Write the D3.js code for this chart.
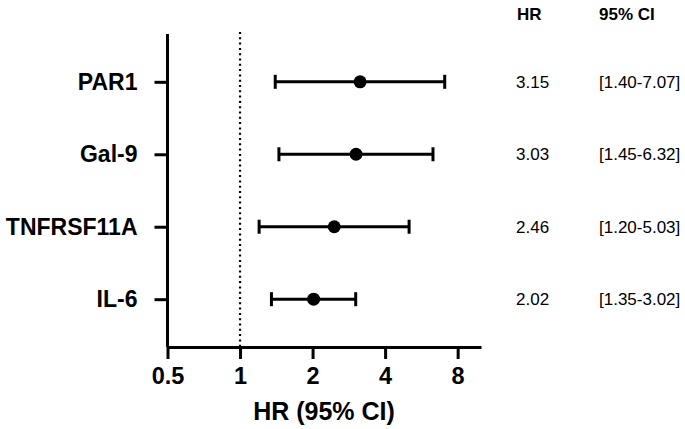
<!DOCTYPE html>
<html><head><meta charset="utf-8">
<script src="https://cdn.jsdelivr.net/npm/d3@7"></script>
<style>body{margin:0;background:#fff}svg{display:block}text{font-family:"Liberation Sans",Arial,Helvetica,sans-serif}</style>
</head><body>
<svg id="c" width="685" height="429"></svg>
<script>
const categories = ["PAR1","Gal-9","TNFRSF11A","IL-6"];
const hr = [3.15, 3.03, 2.46, 2.02];
const ciLow = [1.40, 1.45, 1.20, 1.35];
const ciHigh = [7.07, 6.32, 5.03, 3.02];
const hrLabels = ["3.15","3.03","2.46","2.02"];
const ciLabels = ["[1.40-7.07]","[1.45-6.32]","[1.20-5.03]","[1.35-3.02]"];
const xTicks = [0.5, 1, 2, 4, 8];

const svg = d3.select("#c");
const x = d3.scaleLog().base(2).domain([0.5, 10]).range([167.5, 481]);
const y = d3.scalePoint().domain(categories).range([34, 347]).padding(0.66);
const axisY = 347;

// reference line at 1
svg.append("line").attr("x1", x(1)).attr("x2", x(1)).attr("y1", 32).attr("y2", axisY)
  .attr("stroke", "#000").attr("stroke-width", 2.2).attr("stroke-dasharray", "2,3.3");

// x axis
const gx = svg.append("g").attr("transform", `translate(0,${axisY})`)
  .call(d3.axisBottom(x).tickValues(xTicks).tickFormat(d3.format("")).tickSize(12).tickSizeOuter(0).tickPadding(8));
gx.select(".domain").attr("stroke-width", 3);
gx.selectAll(".tick line").attr("stroke-width", 3);
gx.selectAll(".tick text").attr("font-size", 23.5).attr("font-weight", "bold").attr("fill", "#000")
  .attr("font-family", "Liberation Sans, Arial, sans-serif");

// y axis
const gy = svg.append("g").attr("transform", `translate(${x(0.5)},0)`)
  .call(d3.axisLeft(y).tickSize(13).tickSizeOuter(0).tickPadding(17));
gy.select(".domain").attr("stroke-width", 3).attr("d", `M0,34V${axisY}`);
gy.selectAll(".tick line").attr("stroke-width", 3);
gy.selectAll(".tick text").attr("font-size", 23).attr("font-weight", "bold").attr("fill", "#000")
  .attr("font-family", "Liberation Sans, Arial, sans-serif");

// error bars
const rows = categories.map((c, i) => ({c, hr: hr[i], lo: ciLow[i], hi: ciHigh[i], hl: hrLabels[i], cl: ciLabels[i]}));
const g = svg.append("g");
g.selectAll(".ci").data(rows).join("line").attr("x1", d => x(d.lo)).attr("x2", d => x(d.hi))
  .attr("y1", d => y(d.c)).attr("y2", d => y(d.c)).attr("stroke", "#000").attr("stroke-width", 3);
g.selectAll(".capl").data(rows).join("line").attr("x1", d => x(d.lo)).attr("x2", d => x(d.lo))
  .attr("y1", d => y(d.c) - 7).attr("y2", d => y(d.c) + 7).attr("stroke", "#000").attr("stroke-width", 3);
g.selectAll(".caph").data(rows).join("line").attr("x1", d => x(d.hi)).attr("x2", d => x(d.hi))
  .attr("y1", d => y(d.c) - 7).attr("y2", d => y(d.c) + 7).attr("stroke", "#000").attr("stroke-width", 3);
g.selectAll("circle").data(rows).join("circle").attr("cx", d => x(d.hr)).attr("cy", d => y(d.c))
  .attr("r", 6.5).attr("fill", "#000");

// columns
svg.append("text").attr("x", 517).attr("y", 20).attr("font-size", 17).attr("font-weight", "bold").text("HR");
svg.append("text").attr("x", 599).attr("y", 20).attr("font-size", 17).attr("font-weight", "bold").text("95% CI");
svg.selectAll(".hrt").data(rows).join("text").attr("x", 516).attr("y", d => y(d.c)).attr("dy", "0.36em")
  .attr("font-size", 17).text(d => d.hl);
svg.selectAll(".cit").data(rows).join("text").attr("x", 599).attr("y", d => y(d.c)).attr("dy", "0.36em")
  .attr("font-size", 17).text(d => d.cl);

// x label
svg.append("text").attr("x", 324).attr("y", 420).attr("text-anchor", "middle")
  .attr("font-size", 25).attr("font-weight", "bold").text("HR (95% CI)");
</script>
</body></html>
